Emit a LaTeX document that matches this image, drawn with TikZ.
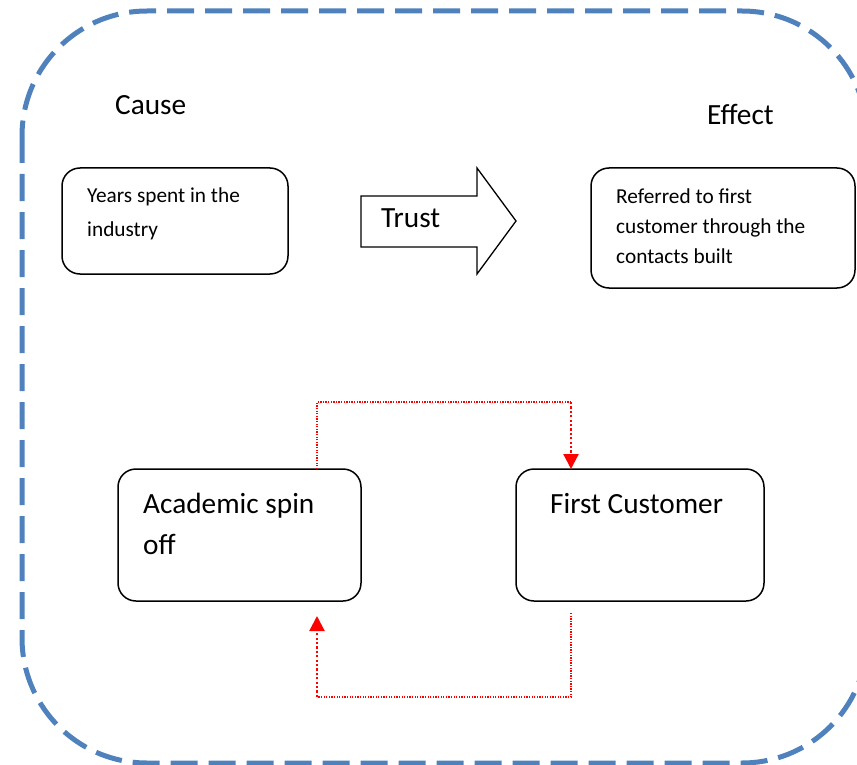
\documentclass[tikz,border=0pt]{standalone}
\usepackage{fontspec}
\setmainfont{Carlito}
\usetikzlibrary{arrows.meta,calc}
\definecolor{borderblue}{RGB}{79,129,189}
\begin{document}
\begin{tikzpicture}[x=1pt,y=-1pt,
  box/.style={draw=black, line width=1.5pt, rounded corners=18pt, inner sep=0pt, outer sep=0pt, anchor=north west},
  smalltxt/.style={inner sep=0pt, align=left, anchor=base west, font=\fontsize{21.3}{31}\selectfont},
  bigtxt/.style={inner sep=0pt, align=left, anchor=base west, font=\fontsize{29.3}{41}\selectfont},
  thindot/.style={red, line width=1.2pt, dash pattern=on 1.3pt off 1.3pt},
  thickdot/.style={red, line width=2.2pt, dash pattern=on 2.2pt off 2.2pt},
  redtip/.style={-{Triangle[width=15pt,length=15pt]}}
]
\useasboundingbox (0,0) rectangle (857,765);
% outer dashed frame
\draw[borderblue, line width=5pt, dash pattern=on 27pt off 11pt, rounded corners=125pt] (22,11) rectangle (867,763);

% headings
\node[bigtxt] (cause) at (115,115) {Cause};
\node[bigtxt] (effect) at (707,125) {Effect};

% top boxes
\node[box, minimum width=226pt, minimum height=106pt] (b1) at (62,168) {};
\node[smalltxt, font=\fontsize{21.3}{33}\selectfont] (t1) at (87,236) {Years spent in the\\industry};
\node[box, minimum width=264pt, minimum height=120pt] (b2) at (591,168) {};
\node[smalltxt, font=\fontsize{21.3}{30}\selectfont] (t2) at (616,263) {Referred to first\\customer through the\\contacts built};

% trust arrow
\draw[black, line width=1.3pt] (361,196) -- (477,196) -- (477,168) -- (516,221) -- (477,274) -- (477,247) -- (361,247) -- cycle;
\node[bigtxt] (trust) at (381,227) {Trust};

% bottom boxes
\node[box, minimum width=243pt, minimum height=132pt] (b3) at (118,469) {};
\node[bigtxt] (t3) at (143,554) {Academic spin\\off};
\node[box, minimum width=248pt, minimum height=132pt] (b4) at (516,469) {};
\node[bigtxt] (t4) at (550,513) {First Customer};

% loop connectors
\coordinate (s3top) at ($(b3.north west)+(199,0)$);
\coordinate (p1) at (317,402);
\coordinate (p2) at (571,402);
\coordinate (e4top) at ($(b4.north west)+(55,0)$);
\coordinate (s4bot) at ($(b4.south west)+(55,12)$);
\coordinate (p3) at (571,697);
\coordinate (p4) at (317,697);
\coordinate (e3bot) at ($(b3.south west)+(199,15)$);
\draw[thindot] (s3top) -- (p1) -- (p2);
\draw[thickdot, redtip] (p2) -- (e4top);
\draw[thindot] (s4bot) -- (p3) -- (p4);
\draw[thickdot, redtip] (p4) -- (e3bot);
\end{tikzpicture}
\end{document}
